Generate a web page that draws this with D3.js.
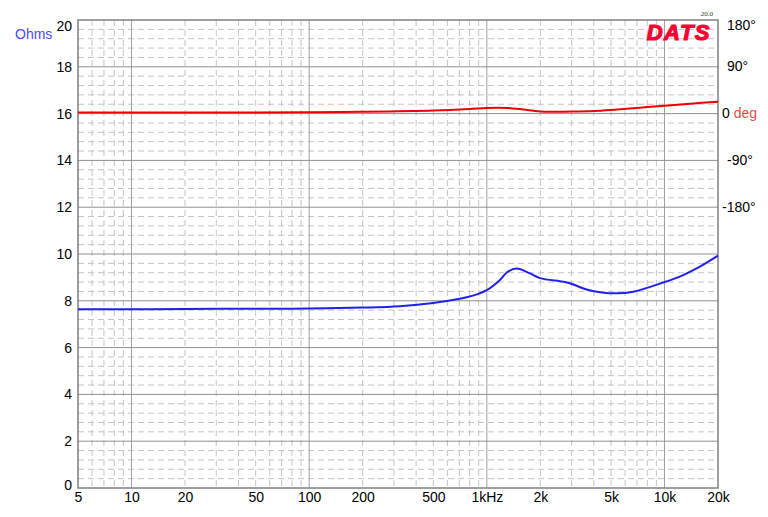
<!DOCTYPE html>
<html><head><meta charset="utf-8">
<script src="https://cdn.jsdelivr.net/npm/d3@7"></script>
<style>body{margin:0;background:#fff}svg{display:block;font-family:"Liberation Sans",Arial,sans-serif}</style>
</head><body><svg id="c" width="768" height="517"></svg>
<script>
const xTicks = [5,10,20,50,100,200,500,1000,2000,5000,10000,20000];
const xTickLabels = ["5","10","20","50","100","200","500","1kHz","2k","5k","10k","20k"];
const yTicks = [0,2,4,6,8,10,12,14,16,18,20];
const phaseTicks = [180,90,0,-90,-180];
const phaseLabels = ["180°","90°","0","-90°","-180°"];
const impFreq = [5,10,20,50,100,200,324,500,770,1000,1184,1300,1472,1749,1990,2680,2936,3642,4328,5372,6667,9837,12730,15810,20000];
const impOhms = [7.64,7.64,7.65,7.66,7.67,7.71,7.77,7.91,8.15,8.46,8.89,9.22,9.38,9.17,8.97,8.82,8.75,8.48,8.37,8.32,8.39,8.78,9.10,9.46,9.93];
const phFreq = [5,20,100,200,500,800,1000,1300,1600,2000,3000,4000,5000,7000,10000,14000,20000];
const phDeg = [2,2,2.5,3.5,6,9,11,11,8,4,4,5,7,11,15,19,23];

const svg = d3.select("#c");
const L=78,R=718,T=20,B=488;
const x = d3.scaleLog().domain([5,20000]).range([L,R]);
const y = d3.scaleLinear().domain([0,20]).range([B,T]);
const yp = d3.scaleLinear().domain([-720,180]).range([B,T]);

const g = svg.append("g");
const minorX=[];
for(let d=1;d<=10000;d*=10){for(let m=2;m<=9;m++){const f=d*m;if(f>5&&f<20000)minorX.push(f);}}
g.selectAll(".mx").data(minorX).enter().append("line")
 .attr("x1",d=>x(d)).attr("x2",d=>x(d)).attr("y1",T).attr("y2",B)
 .attr("stroke","#c4c4c4").attr("stroke-width",1).attr("stroke-dasharray","6,4");
const minorY=d3.range(0,20.01,0.4).filter(v=>Math.abs(v/2-Math.round(v/2))>0.01);
g.selectAll(".my").data(minorY).enter().append("line")
 .attr("x1",L).attr("x2",R).attr("y1",d=>y(d)).attr("y2",d=>y(d))
 .attr("stroke","#c4c4c4").attr("stroke-width",1).attr("stroke-dasharray","6,4");
g.selectAll(".Mx").data([10,100,1000,10000]).enter().append("line")
 .attr("x1",d=>x(d)).attr("x2",d=>x(d)).attr("y1",T).attr("y2",B)
 .attr("stroke","#a0a0a0").attr("stroke-width",1);
g.selectAll(".My").data(yTicks.slice(1,-1)).enter().append("line")
 .attr("x1",L).attr("x2",R).attr("y1",d=>y(d)).attr("y2",d=>y(d))
 .attr("stroke","#909090").attr("stroke-width",1);
g.append("rect").attr("x",L).attr("y",T).attr("width",R-L).attr("height",B-T)
 .attr("fill","none").attr("stroke","#808080").attr("stroke-width",1.5);

const yAxis = d3.axisLeft(y).tickValues(yTicks).tickSize(0).tickPadding(6);
const ya = svg.append("g").attr("transform",`translate(${L},0)`).call(yAxis);
ya.select(".domain").remove();
ya.selectAll("text").attr("font-size",14).attr("fill","#000")
 .attr("dy",(d)=> d===20?"0.75em":(d===0?"0.1em":"0.32em"));

const xAxis = d3.axisBottom(x).tickValues(xTicks).tickFormat((d,i)=>xTickLabels[i]).tickSize(0).tickPadding(4);
const xa = svg.append("g").attr("transform",`translate(0,${B})`).call(xAxis);
xa.select(".domain").remove();
xa.selectAll("text").attr("font-size",14).attr("fill","#000");

const pa = svg.append("g");
phaseTicks.forEach((p,i)=>{
  const t = pa.append("text").attr("x",p===0?722:(p===-180?722:727)).attr("y",yp(p)).attr("font-size",14)
   .attr("dy",p===180?"0.7em":"0.32em").attr("fill","#000");
  if(p===0){t.text("0 ");t.append("tspan").attr("fill","#f04848").text("deg");}
  else t.text(phaseLabels[i]);
});

svg.append("text").attr("x",15).attr("y",39).attr("font-size",14).attr("fill","#4a4aff").text("Ohms");

svg.append("text").attr("x",711).attr("y",40).attr("text-anchor","end").attr("font-size",22)
 .attr("font-weight","bold").attr("font-style","italic").attr("fill","#ff0033")
 .attr("stroke","#ff0033").attr("stroke-width",1.2).attr("letter-spacing",1.5).text("DATS");
svg.append("text").attr("x",713).attr("y",16).attr("text-anchor","end").attr("font-size",7)
 .attr("fill","#333").attr("font-family","Liberation Serif,serif").text("20.0");

const line = d3.line().curve(d3.curveCatmullRom.alpha(0.5));
const impPts = impFreq.map((f,i)=>[x(f),y(impOhms[i])]);
const phPts = phFreq.map((f,i)=>[x(f),yp(phDeg[i])]);
svg.append("path").attr("d",line(phPts)).attr("fill","none").attr("stroke","#ee0000").attr("stroke-width",2);
svg.append("path").attr("d",line(impPts)).attr("fill","none").attr("stroke","#2020ee").attr("stroke-width",2);
</script></body></html>
